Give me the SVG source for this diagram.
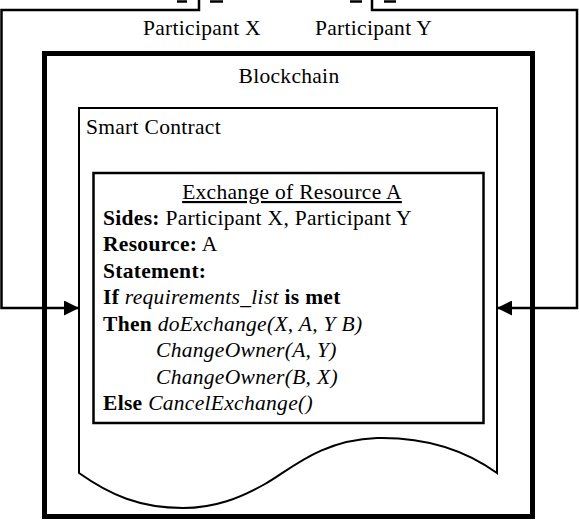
<svg xmlns="http://www.w3.org/2000/svg" width="579" height="521" viewBox="0 0 579 521">
<style>
  text { font-family: "Liberation Serif", "Times New Roman", serif; font-size: 21.5px; letter-spacing: 0.3px; fill: #000; }
  .b { font-weight: bold; }
  .i { font-style: italic; }
  .conn { fill: none; stroke: #000; stroke-width: 2.5; }
</style>
<defs>
  <marker id="arr" viewBox="0 0 10 10" refX="10" refY="5" markerWidth="7" markerHeight="6" markerUnits="strokeWidth" orient="auto">
    <path d="M0,0 L10,5 L0,10 Z" fill="#000"/>
  </marker>
</defs>
<rect width="579" height="521" fill="#fff"/>

<g id="participant-x">
  <line x1="177" y1="1.5" x2="187" y2="1.5" stroke="#000" stroke-width="2.5"/>
  <line x1="210" y1="1.5" x2="223" y2="1.5" stroke="#000" stroke-width="2.5"/>
  <text x="143" y="35">Participant X</text>
</g>
<g id="participant-y">
  <line x1="350" y1="1.5" x2="362" y2="1.5" stroke="#000" stroke-width="2.5"/>
  <line x1="384" y1="1.5" x2="396" y2="1.5" stroke="#000" stroke-width="2.5"/>
  <text x="315" y="35">Participant Y</text>
</g>

<g id="blockchain">
  <rect x="44.5" y="53.5" width="488" height="463" fill="none" stroke="#000" stroke-width="5"/>
  <text x="289" y="83" text-anchor="middle">Blockchain</text>
</g>

<g id="smart-contract">
  <path d="M79,108 H497 V473 C465,450 425,437 377,438 C320,440 290,470 265,484 C240,498 215,508 183,508 C140,508 110,495 79,473 Z" fill="none" stroke="#000" stroke-width="2"/>
  <text x="86" y="134">Smart Contract</text>
</g>

<g id="exchange-box">
  <rect x="93.5" y="173" width="390" height="250" fill="none" stroke="#000" stroke-width="2.5"/>
  <text x="292" y="199" text-anchor="middle" text-decoration="underline">Exchange of Resource A</text>
  <text x="103" y="225"><tspan class="b">Sides:</tspan> Participant X, Participant Y</text>
  <text x="103" y="251"><tspan class="b">Resource:</tspan> A</text>
  <text x="103" y="278" class="b">Statement:</text>
  <text x="103" y="304"><tspan class="b">If</tspan> <tspan class="i">requirements_list</tspan> <tspan class="b">is met</tspan></text>
  <text x="103" y="331"><tspan class="b">Then</tspan> <tspan class="i">doExchange(X, A, Y B)</tspan></text>
  <text x="156" y="357" class="i">ChangeOwner(A, Y)</text>
  <text x="156" y="384" class="i">ChangeOwner(B, X)</text>
  <text x="103" y="410"><tspan class="b">Else</tspan> <tspan class="i">CancelExchange()</tspan></text>
</g>

<g id="connectors">
  <path class="conn" d="M199,0 V10 H1.5 V308 H79" marker-end="url(#arr)"/>
  <path class="conn" d="M372,0 V10 H577 V308 H497" marker-end="url(#arr)"/>
</g>
</svg>
